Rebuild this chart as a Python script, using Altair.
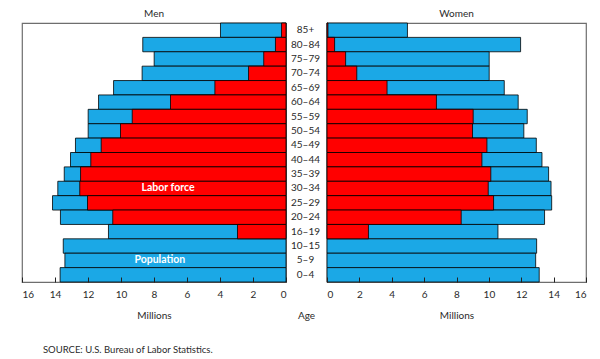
import altair as alt
import pandas as pd

ages = ["85+", "80–84", "75–79", "70–74", "65–69", "60–64", "55–59", "50–54", "45–49",
        "40–44", "35–39", "30–34", "25–29", "20–24", "16–19", "10–15", "5–9", "0–4"]
men_pop = [3.97, 8.68, 7.99, 8.72, 10.45, 11.36, 11.99, 11.99, 12.76, 13.06, 13.44, 13.83,
           14.15, 13.67, 10.76, 13.5, 13.4, 13.69]
men_lf = [0.27, 0.64, 1.35, 2.27, 4.31, 7.0, 9.32, 10.03, 11.2, 11.83, 12.45, 12.5,
          12.03, 10.5, 2.94, 0, 0, 0]
women_pop = [4.97, 11.96, 10.02, 10.02, 10.95, 11.81, 12.37, 12.16, 12.93, 13.28, 13.69,
             13.84, 13.88, 13.44, 10.56, 12.95, 12.89, 13.11]
women_lf = [0.06, 0.47, 1.15, 1.84, 3.71, 6.76, 9.03, 8.99, 9.88, 9.57, 10.12, 9.96,
            10.29, 8.29, 2.56, 0, 0, 0]
tick_values = [0, 2, 4, 6, 8, 10, 12, 14, 16]
annot_age = ["30–34", "5–9"]
annot_val = [7.15, 7.65]
annot_text = ["Labor force", "Population"]

BLUE = "#1BA8E6"
RED = "#FF0000"
FONT = "Lato"
TXT = "#2a2a2a"
H = 259

df_m = pd.DataFrame({"age": ages, "pop": men_pop, "lf": men_lf})
df_w = pd.DataFrame({"age": ages, "pop": women_pop, "lf": women_lf})
df_a = pd.DataFrame({"age": annot_age, "v": annot_val, "t": annot_text})

yenc = alt.Y("age:N", sort=ages, axis=None,
             scale=alt.Scale(paddingInner=0, paddingOuter=0))


def xaxis():
    return alt.Axis(values=tick_values, title="Millions", grid=False, domain=False,
                    tickSize=5, offset=-5, labelPadding=7, tickColor="#222",
                    labelOverlap=False,
                    labelFontSize=10, labelColor=TXT, labelFont=FONT,
                    titleFontSize=10, titleFont=FONT, titleColor=TXT,
                    titleFontWeight="normal", titlePadding=11, zindex=1)


def panel(df, reverse, title, w, extra=None):
    sc = alt.Scale(domain=[0, 16], reverse=reverse)
    pop = alt.Chart(df).mark_bar(color=BLUE, stroke="black", strokeWidth=0.8).encode(
        x=alt.X("pop:Q", scale=sc, axis=xaxis()), y=yenc)
    lf = alt.Chart(df).mark_bar(color=RED, stroke="black", strokeWidth=0.8).transform_filter(
        "datum.lf > 0").encode(x=alt.X("lf:Q", scale=sc, axis=xaxis()), y=yenc)
    layers = [pop, lf]
    if extra is not None:
        layers.append(extra)
    return alt.layer(*layers).properties(
        width=w, height=H,
        title=alt.TitleParams(title, fontSize=10, font=FONT, color=TXT,
                              fontWeight="normal", offset=4),
        view=alt.ViewBackground(stroke="#6e6e6e", strokeWidth=1.2))


annot = alt.Chart(df_a).mark_text(color="white", fontWeight="bold", fontSize=10.5,
                                  font=FONT).encode(
    x=alt.X("v:Q", scale=alt.Scale(domain=[0, 16], reverse=True), axis=xaxis()),
    y=yenc, text="t:N")

left = panel(df_m, True, "Men", 264, annot)
right = panel(df_w, False, "Women", 259)

mid = alt.Chart(pd.DataFrame({"age": ages})).mark_text(
    fontSize=10, font=FONT, color=TXT, dx=-1).encode(y=yenc, text="age:N").properties(
    width=41, height=H,
    title=alt.TitleParams("Age", orient="bottom", fontSize=10, font=FONT, color=TXT,
                          fontWeight="normal", offset=29),
    view=alt.ViewBackground(strokeWidth=0))

chart = alt.hconcat(left, mid, right, spacing=0, bounds="flush").properties(
    padding={"left": 12, "top": 0, "right": 0, "bottom": 0},
    title=alt.TitleParams("SOURCE:  U.S. Bureau of Labor Statistics.", orient="bottom",
                          anchor="start", dx=22, offset=24, fontSize=9.5, font=FONT,
                          color=TXT, fontWeight="normal"),
).configure(background="white")

chart.save("out.html", embed_options={"renderer": "svg", "actions": False})
